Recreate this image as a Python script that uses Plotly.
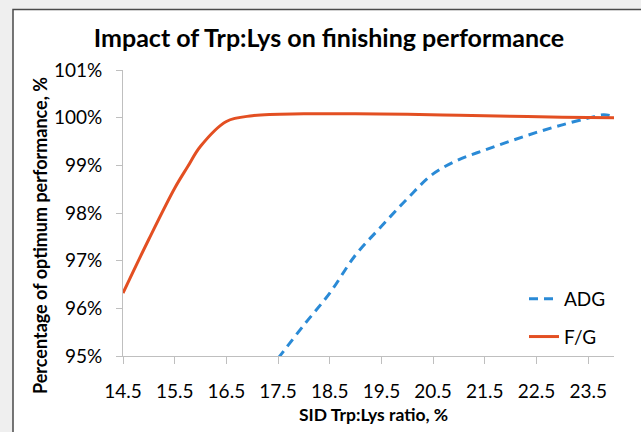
import plotly.graph_objects as go

# Data
fg_x = [14.5, 15.0, 15.5, 15.75, 16.0, 16.5, 17.0, 18.0, 19.0, 20.0, 21.0, 22.0, 23.0, 24.0]
fg_y = [96.32, 97.45, 98.52, 98.97, 99.40, 99.92, 100.04, 100.08, 100.08, 100.07, 100.05, 100.03, 100.01, 100.0]

adg_x = [17.5, 18.0, 18.5, 19.0, 19.5, 20.0, 20.5, 21.0, 21.5, 22.0, 22.5, 23.0, 23.5, 23.8, 24.0]
adg_y = [94.95, 95.65, 96.32, 97.12, 97.72, 98.3, 98.82, 99.12, 99.32, 99.51, 99.69, 99.85, 99.99, 100.06, 100.02]

x_ticks = [14.5, 15.5, 16.5, 17.5, 18.5, 19.5, 20.5, 21.5, 22.5, 23.5]
x_tick_labels = ["14.5", "15.5", "16.5", "17.5", "18.5", "19.5", "20.5", "21.5", "22.5", "23.5"]
y_ticks = [95, 96, 97, 98, 99, 100, 101]
y_tick_labels = ["95%", "96%", "97%", "98%", "99%", "100%", "101%"]

W, H = 641, 432
ML, MR, MT, MB = 123, 27, 70, 76
PW, PH = W - ML - MR, H - MT - MB

def px_x(p):
    return (p - ML) / PW

def px_y(p):
    return (H - MB - p) / PH

FONT = "Lato"
ADG_C = "#2A8AD6"
FG_C = "#E34F22"
AX_C = "#BFBFBF"

fig = go.Figure()
fig.add_trace(go.Scatter(
    x=adg_x, y=adg_y, name="ADG", mode="lines", legendgroup="a",
    line=dict(color=ADG_C, width=3, dash="9px,6px", shape="spline", smoothing=1.0),
))
fig.add_trace(go.Scatter(
    x=fg_x, y=fg_y, name="F/G", mode="lines", legendgroup="b",
    line=dict(color=FG_C, width=3, shape="spline", smoothing=1.0),
))

fig.update_layout(
    width=W, height=H,
    margin=dict(l=ML, r=MR, t=MT, b=MB, autoexpand=False),
    paper_bgcolor="#EFEFEF",
    plot_bgcolor="rgba(0,0,0,0)",
    font=dict(family=FONT, color="#000000"),
    title=dict(
        text="<b>Impact of Trp:Lys on finishing performance</b>",
        font=dict(family=FONT, size=25, color="#000000"),
        x=329 / W, xref="container", xanchor="center",
        y=1 - 38 / H, yref="container", yanchor="middle",
    ),
    xaxis=dict(
        range=[14.5, 24.0], tickmode="array", tickvals=x_ticks, ticktext=x_tick_labels,
        showgrid=False, zeroline=False, showline=True, linecolor=AX_C, linewidth=1,
        ticks="outside", ticklen=7, tickcolor=AX_C, tickwidth=1,
        tickfont=dict(family=FONT, size=19, color="#000000"),
        ticklabelstandoff=11,
    ),
    yaxis=dict(
        range=[95, 101], tickmode="array", tickvals=y_ticks, ticktext=y_tick_labels,
        showgrid=False, zeroline=False, showline=True, linecolor=AX_C, linewidth=1,
        ticks="outside", ticklen=6, tickcolor=AX_C, tickwidth=1,
        tickfont=dict(family=FONT, size=19, color="#000000"),
        ticklabelstandoff=10,
    ),
    showlegend=True,
    legend=dict(
        x=px_x(524), y=px_y(280), xanchor="left", yanchor="top",
        bgcolor="rgba(0,0,0,0)", font=dict(family=FONT, size=19, color="#000000"),
        itemwidth=30, traceorder="grouped", tracegroupgap=10,
    ),
    shapes=[dict(
        type="rect", xref="paper", yref="paper", layer="below",
        x0=px_x(13), x1=px_x(W + 20), y0=px_y(H + 20), y1=px_y(9.5),
        fillcolor="#FFFFFF", line=dict(color="#4A4A4A", width=1.5),
    )],
    annotations=[
        dict(text="<b>Percentage of optimum performance, %</b>", textangle=-90,
             xref="paper", yref="paper", x=px_x(40), y=px_y(236),
             xanchor="center", yanchor="middle", showarrow=False,
             font=dict(family=FONT, size=18, color="#000000")),
        dict(text="<b>SID Trp:Lys ratio, %</b>",
             xref="paper", yref="paper", x=px_x(373), y=px_y(414),
             xanchor="center", yanchor="middle", showarrow=False,
             font=dict(family=FONT, size=17.5, color="#000000")),
    ],
)

fig.write_html("out.html", config={"displayModeBar": False},
               post_script="document.body.style.margin='0';")
